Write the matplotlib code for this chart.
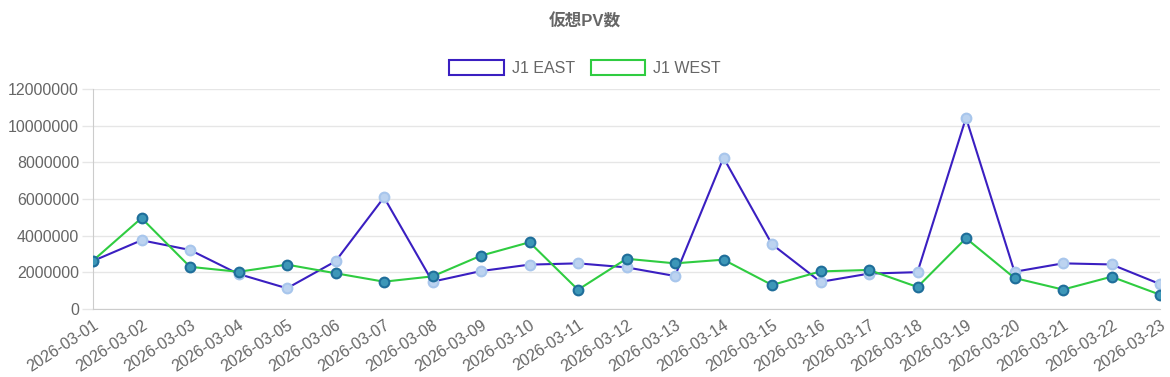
import matplotlib
matplotlib.use('Agg')
import matplotlib.pyplot as plt
from matplotlib.patches import Patch
from matplotlib.ticker import MultipleLocator, FuncFormatter

plt.rcParams['font.family'] = ['Liberation Sans', 'Noto Sans CJK JP', 'DejaVu Sans']

# data
dates = ['2026-03-%02d' % d for d in range(1, 24)]
east = [2620000, 3750000, 3220000, 1910000, 1130000, 2600000, 6090000, 1490000,
        2070000, 2420000, 2490000, 2270000, 1800000, 8250000, 3530000, 1480000,
        1930000, 2010000, 10430000, 2030000, 2490000, 2430000, 1360000]
west = [2640000, 4960000, 2300000, 2030000, 2420000, 1950000, 1490000, 1780000,
        2910000, 3640000, 1050000, 2740000, 2490000, 2690000, 1310000, 2050000,
        2130000, 1200000, 3860000, 1690000, 1060000, 1760000, 780000]

east_line = '#3a1fc1'
west_line = '#2fcc41'
grey = '#666666'

fig = plt.figure(figsize=(11.7, 3.77), dpi=100)
ax = fig.add_axes([93 / 1170, 1 - 309 / 377, 1067 / 1170, 220 / 377])

x = range(len(dates))
ax.plot(x, east, color=east_line, lw=1.5, zorder=3,
        marker='o', ms=7, mfc='#bcd3f0', mec='#a8c6ec', mew=1.5)
ax.plot(x, west, color=west_line, lw=1.5, zorder=4,
        marker='o', ms=7, mfc='#3d97b8', mec='#1f6e9a', mew=1.5)

ax.set_xlim(0, len(dates) - 1)
ax.set_ylim(0, 12000000)
ax.yaxis.set_major_locator(MultipleLocator(2000000))
ax.yaxis.set_major_formatter(FuncFormatter(lambda v, p: '%d' % v))
ax.set_xticks(list(x))
ax.set_xticklabels(dates, rotation=33, ha='right', va='top',
                   rotation_mode='anchor')

ax.grid(True, axis='y', color='#e6e6e6', lw=1)
ax.set_axisbelow(True)
for s in ['top', 'right']:
    ax.spines[s].set_visible(False)
for s in ['left', 'bottom']:
    ax.spines[s].set_color('#cccccc')
ax.tick_params(axis='both', colors='#e6e6e6', labelcolor=grey, labelsize=11.5,
               width=1)
ax.tick_params(axis='y', length=8, pad=2)
ax.tick_params(axis='x', length=0, pad=6)

fig.text(0.5, 1 - 22 / 377, '仮想PV数', ha='center', va='center',
         fontsize=12, fontweight='bold', color=grey)

handles = [Patch(facecolor='white', edgecolor=east_line, lw=1.5, label='J1 EAST'),
           Patch(facecolor='white', edgecolor=west_line, lw=1.5, label='J1 WEST')]
fig.legend(handles=handles, loc='center', bbox_to_anchor=(0.5, 1 - 68 / 377),
           ncol=2, frameon=False, fontsize=11.5, labelcolor=grey,
           handlelength=3.4, handleheight=1.05, handletextpad=0.5,
           columnspacing=1.0)

fig.savefig('out.png', dpi=100)
